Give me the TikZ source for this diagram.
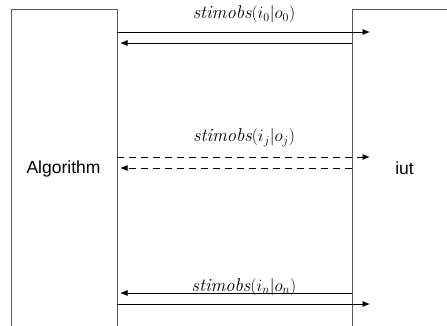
\documentclass[tikz,border=0pt]{standalone}
\usepackage{fontspec}
\setsansfont{Liberation Sans}
\usetikzlibrary{arrows.meta}
\begin{document}
\begin{tikzpicture}[x=1pt,y=-1pt,
  boxline/.style={draw=black!65,line width=0.9pt},
  msg/.style={draw=black,line width=0.8pt,-{Latex[length=7.5pt,width=6pt]}},
  dmsg/.style={msg,dash pattern=on 7pt off 5pt},
  lbl/.style={inner sep=0pt,anchor=base,font=\fontsize{18.5}{21}\selectfont},
  actor/.style={inner sep=0pt,anchor=base,font=\sffamily\fontsize{17.5}{20}\selectfont}]
\useasboundingbox (0,0) rectangle (447,326);
% lifeline boxes (open at the bottom)
\draw[boxline] (11,326) -- (11,9) -- (117,9) -- (117,326);
\draw[boxline] (352,326) -- (352,9) -- (448,9);
\node[actor] (alg) at (63.5,173) {Algorithm};
\node[actor] (iut) at (404.5,174) {iut};
% endpoints
\coordinate (a0) at (117,32); \coordinate (b0) at (370,32);
\coordinate (c0) at (352,43); \coordinate (d0) at (120,43);
\coordinate (aj) at (117,157); \coordinate (bj) at (370,157);
\coordinate (cj) at (352,168); \coordinate (dj) at (120,168);
\coordinate (cn) at (352,293); \coordinate (dn) at (120,293);
\coordinate (an) at (117,304); \coordinate (bn) at (370,304);
% messages
\draw[msg] (a0) -- (b0);
\draw[msg] (c0) -- (d0);
\draw[dmsg] (aj) -- (bj);
\draw[dmsg] (cj) -- (dj);
\draw[msg] (cn) -- (dn);
\draw[msg] (an) -- (bn);
% labels
\node[lbl] (l0) at (244,19) {$\mathit{stimobs}(i_0|o_0)$};
\node[lbl] (lj) at (244,142) {$\mathit{stimobs}(i_j|o_j)$};
\node[lbl] (ln) at (244,291) {$\mathit{stimobs}(i_n|o_n)$};
\end{tikzpicture}
\end{document}
